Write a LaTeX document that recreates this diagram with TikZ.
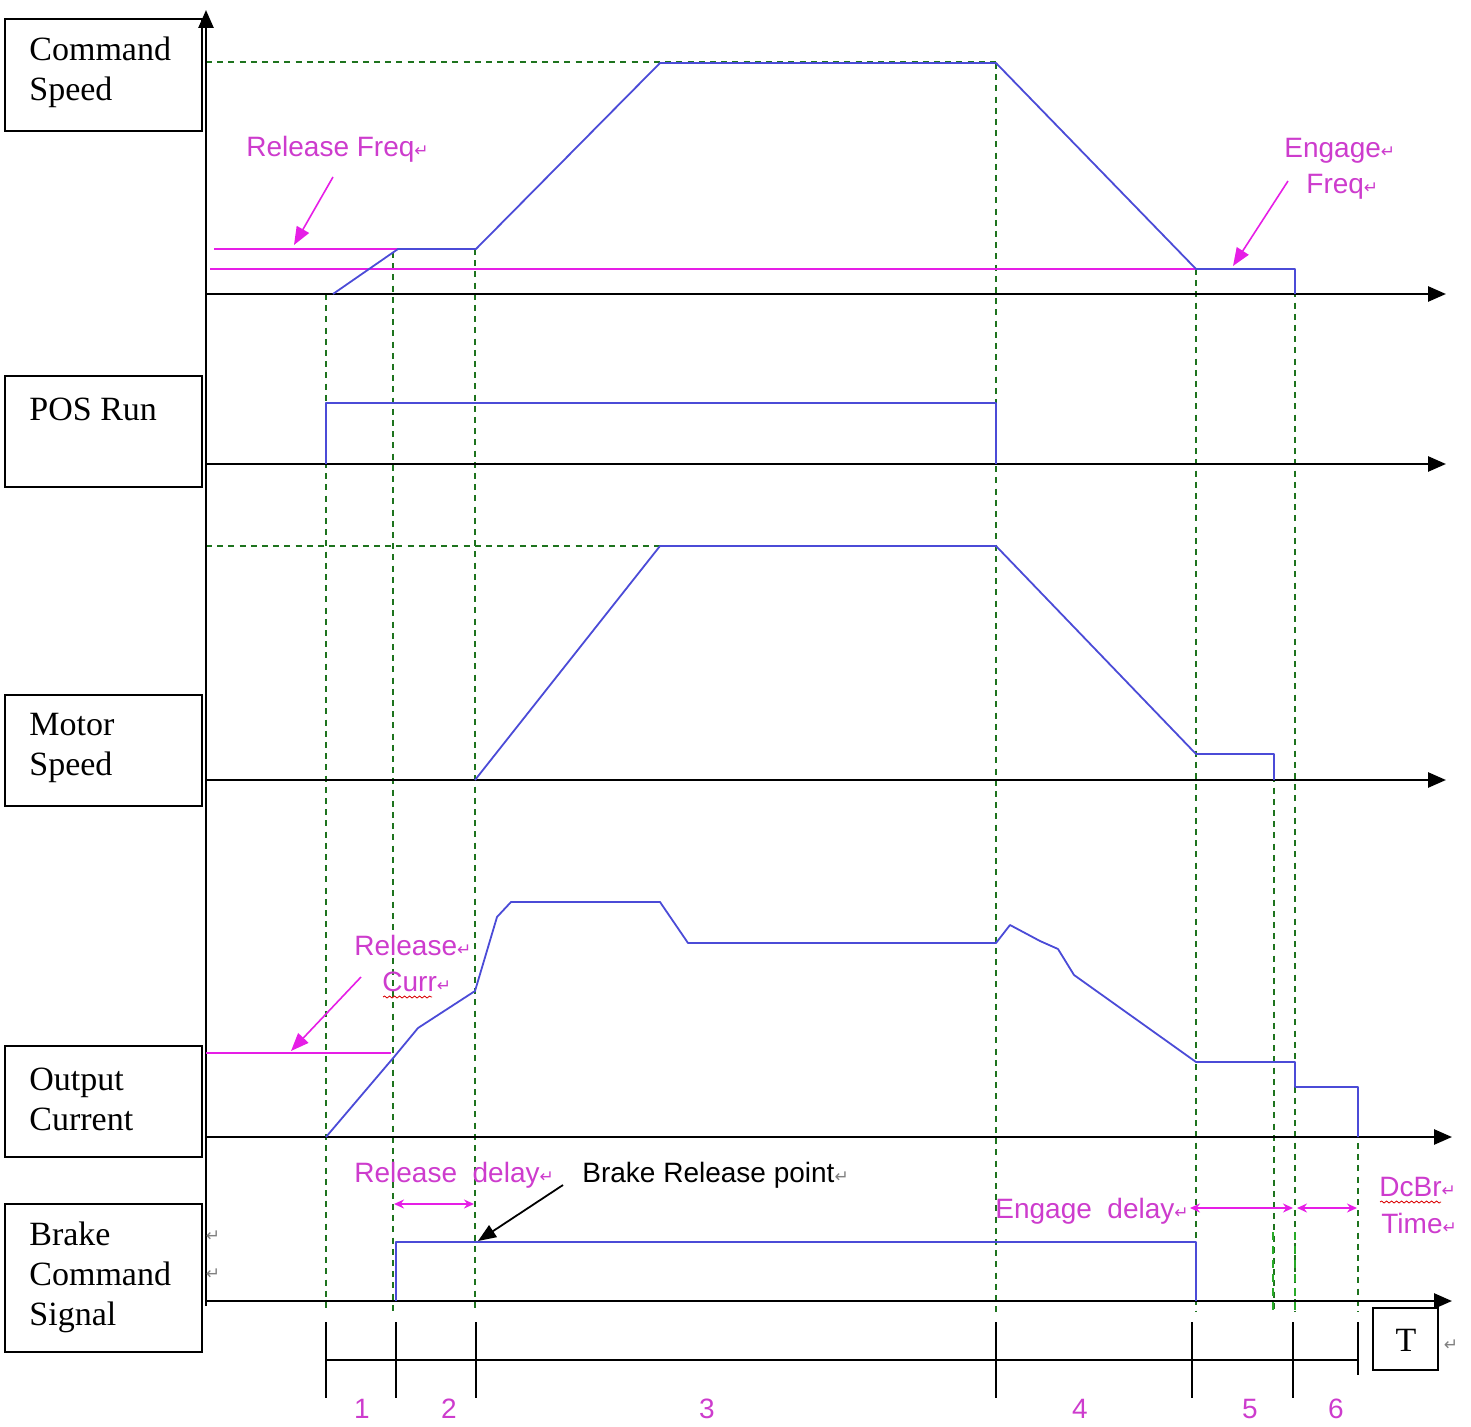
\documentclass[tikz,border=0pt]{standalone}
\usepackage{fontspec}
\setmainfont{Liberation Serif}
\setsansfont{Liberation Sans}
\newfontfamily\djv{DejaVu Sans}
\usetikzlibrary{arrows.meta,decorations.pathmorphing}
\definecolor{sigblue}{RGB}{75,75,215}
\definecolor{mag}{RGB}{230,30,230}
\definecolor{magtxt}{RGB}{205,60,205}
\definecolor{grn}{RGB}{30,115,30}
\definecolor{brgrn}{RGB}{40,170,40}
\newcommand\retm{{\djv\fontsize{8.5}{9}\selectfont ↵}}
\begin{document}
\begin{tikzpicture}[x=0.5pt,y=-0.5pt,
  axis/.style={line width=1.3pt,-{Triangle[length=9pt,width=7.5pt]}},
  sig/.style={sigblue,line width=0.9pt,line join=round},
  guide/.style={grn,line width=0.7pt,dash pattern=on 3pt off 2.6pt},
  lvl/.style={mag,line width=0.9pt},
  ptr/.style={mag,line width=0.8pt,-{Triangle[length=9pt,width=7pt]}},
  spanarr/.style={mag,line width=1pt,{Stealth[length=5pt,width=4.5pt]}-{Stealth[length=5pt,width=4.5pt]}},
  lblbox/.style={draw,line width=1.2pt},
  lbltxt/.style={anchor=west,align=left,inner sep=0pt,font=\fontsize{17}{20}\selectfont},
  mtxt/.style={magtxt,anchor=west,inner sep=0pt,font=\sffamily\fontsize{14}{16}\selectfont},
  ktxt/.style={black,anchor=west,inner sep=0pt,font=\sffamily\fontsize{14}{16}\selectfont},
  num/.style={magtxt,inner sep=0pt,font=\sffamily\fontsize{14}{16}\selectfont},
  tick/.style={black,line width=0.9pt},
  wavy/.style={red!85!black,line width=0.4pt,decorate,decoration={snake,amplitude=0.5pt,segment length=2.5pt}}
]
\useasboundingbox (0,0) rectangle (1471,1427);

% label boxes
\draw[lblbox] (5,19) rectangle (202,131);
\node[lbltxt] (lcmd) at (29,72) {Command\\Speed};
\draw[lblbox] (5,376) rectangle (202,487);
\node[lbltxt] (lpos) at (29,409) {POS Run};
\draw[lblbox] (5,695) rectangle (202,806);
\node[lbltxt] (lmot) at (29,748) {Motor\\Speed};
\draw[lblbox] (5,1046) rectangle (202,1157);
\node[lbltxt] (lout) at (29,1099) {Output\\Current};
\draw[lblbox] (5,1204) rectangle (202,1352);
\node[lbltxt] (lbrk) at (29,1277) {Brake\\Command\\Signal};

% guides
\draw[guide] (206,62) -- (996,62);
\draw[guide] (206,546) -- (996,546);
\draw[guide] (326,294) -- (326,1312);
\draw[guide] (393,252) -- (393,1312);
\draw[guide] (475,249) -- (475,1312);
\draw[guide] (996,63) -- (996,1312);
\draw[guide] (1196,269) -- (1196,1312);
\draw[guide] (1295,269) -- (1295,1312);
\draw[guide] (1274,754) -- (1274,1312);
\draw[guide] (1358,1087) -- (1358,1312);
\draw[brgrn,line width=1.4pt,dash pattern=on 4pt off 3pt] (1273,1232) -- (1273,1312);
\draw[brgrn,line width=1.4pt,dash pattern=on 4pt off 3pt] (1295,1232) -- (1295,1312);

% axes
\draw[axis] (206,1306) -- (206,10);
\draw[axis] (206,294) -- (1446,294);
\draw[axis] (206,464) -- (1446,464);
\draw[axis] (206,780) -- (1446,780);
\draw[axis] (206,1137) -- (1452,1137);
\draw[axis] (206,1301) -- (1452,1301);

% command speed
\draw[lvl] (214,249) -- (400,249);
\draw[lvl] (210,269) -- (1196,269);
\draw[sig] (333,294) -- (398,249) -- (476,249) -- (660,63) -- (996,63) -- (1196,269) -- (1295,269) -- (1295,294);
\draw[ptr] (333,177) -- (294,245);
\draw[ptr] (1288,181) -- (1233,266);
\node[mtxt] (trf) at (246,149) {Release\ Freq\retm};
\node[mtxt] (teng) at (1284,151) {Engage\retm};
\node[mtxt] (tefq) at (1306,187) {Freq\retm};

% POS run
\draw[sig] (326,464) -- (326,403) -- (996,403) -- (996,464);

% motor speed
\draw[sig] (475,780) -- (660,546) -- (996,546) -- (1196,754) -- (1274,754) -- (1274,780);

% output current
\draw[lvl] (206,1053) -- (391,1053);
\draw[ptr] (361,977) -- (291,1051);
\draw[sig] (326,1137) -- (394,1057) -- (418,1028) -- (475,991) -- (497,917) -- (511,902) -- (660,902) -- (688,943) -- (996,943) -- (1010,925) -- (1040,941) -- (1058,949) -- (1074,975) -- (1196,1062) -- (1295,1062) -- (1295,1087) -- (1358,1087) -- (1358,1137);
\node[mtxt] (trc1) at (354,945) {Release\retm};
\node[mtxt] (trc2) at (382,982) {Curr\retm};
\draw[wavy] (383,997) -- (432,997);

% brake command
\draw[sig] (396,1301) -- (396,1242) -- (1196,1242) -- (1196,1301);
\node[mtxt] (trd) at (354,1175) {Release\ \ delay\retm};
\node[ktxt] (tbrp) at (582,1175) {Brake\ Release\ point{\color{gray}\retm}};
\draw[line width=0.9pt,-{Triangle[length=9pt,width=7pt]}] (563,1185) -- (478,1241);
\draw[spanarr] (394,1204) -- (474,1204);
\node[mtxt] (ted) at (995,1211) {Engage\ \ delay\retm};
\draw[spanarr] (1190,1208) -- (1293,1208);
\draw[spanarr] (1297,1208) -- (1357,1208);
\node[mtxt] (tdc1) at (1379,1187) {DcBr\retm};
\node[mtxt] (tdc2) at (1381,1223) {Time\retm};
\draw[wavy] (1380,1202) -- (1441,1202);
\node[gray,inner sep=0pt] (r1) at (213,1236) {\retm};
\node[gray,inner sep=0pt] (r2) at (213,1274) {\retm};

% timeline
\draw[tick] (326,1360) -- (1358,1360);
\foreach \xx in {326,396,476,996,1192,1293}{
  \draw[tick] (\xx,1322) -- (\xx,1398);
}
\draw[tick] (1358,1322) -- (1358,1375);
\node[num] (n1) at (362,1409) {1};
\node[num] (n2) at (449,1409) {2};
\node[num] (n3) at (707,1409) {3};
\node[num] (n4) at (1080,1409) {4};
\node[num] (n5) at (1250,1409) {5};
\node[num] (n6) at (1336,1409) {6};

% T box
\draw[lblbox] (1373,1308) rectangle (1438,1370);
\node[inner sep=0pt,font=\fontsize{17}{20}\selectfont] (tT) at (1406,1340) {T};
\node[gray,inner sep=0pt] (r3) at (1451,1345) {\retm};
\end{tikzpicture}
\end{document}
